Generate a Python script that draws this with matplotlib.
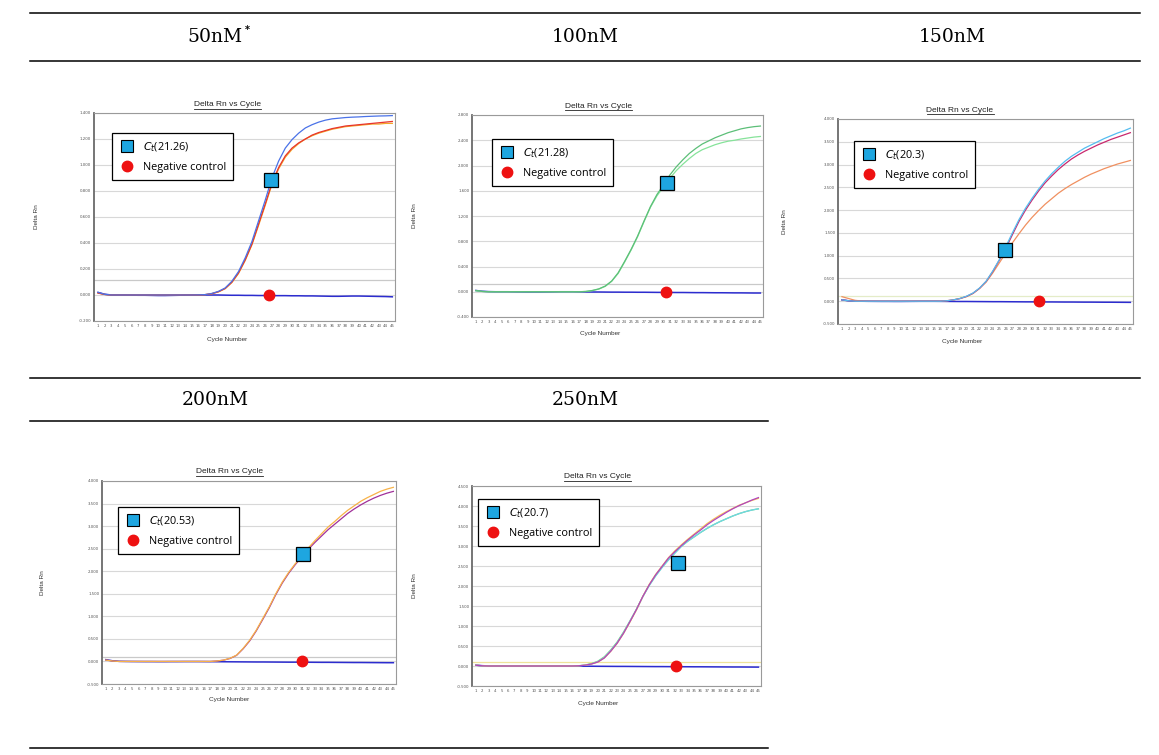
import matplotlib
matplotlib.use("Agg")
import matplotlib.pyplot as plt
from matplotlib.lines import Line2D
from matplotlib.ticker import MultipleLocator, FormatStrFormatter

# ---- data (Delta Rn per cycle) ----
cycles = list(range(1, 46))

nm50_blue = [0.020, 0.005, 0.000, 0.000, 0.000, 0.000, 0.000, 0.000, 0.000, 0.000, 0.000, 0.000, 0.000, 0.000, 0.000,
             0.001, 0.003, 0.012, 0.028, 0.054, 0.105, 0.180, 0.285, 0.410, 0.570, 0.730, 0.900, 1.030, 1.130, 1.195,
             1.245, 1.285, 1.310, 1.330, 1.345, 1.355, 1.360, 1.365, 1.368, 1.370, 1.373, 1.375, 1.377, 1.378, 1.380]
nm50_red = [0.015, 0.004, 0.000, 0.000, 0.000, 0.000, 0.000, 0.000, 0.000, 0.000, 0.000, 0.000, 0.000, 0.000, 0.000,
            0.001, 0.003, 0.010, 0.025, 0.050, 0.098, 0.170, 0.270, 0.390, 0.545, 0.700, 0.860, 0.980, 1.070, 1.130,
            1.170, 1.200, 1.230, 1.250, 1.265, 1.280, 1.290, 1.300, 1.305, 1.310, 1.315, 1.320, 1.325, 1.330, 1.335]
nm50_orange = [0.015, 0.004, 0.000, 0.000, 0.000, 0.000, 0.000, 0.000, 0.000, 0.000, 0.000, 0.000, 0.000, 0.000, 0.000,
               0.001, 0.003, 0.010, 0.024, 0.048, 0.095, 0.165, 0.265, 0.385, 0.535, 0.690, 0.850, 0.970, 1.060, 1.120,
               1.165, 1.200, 1.225, 1.245, 1.260, 1.275, 1.285, 1.295, 1.300, 1.305, 1.310, 1.315, 1.315, 1.320, 1.320]
nm50_neg = [0.020, 0.006, 0.000, 0.000, 0.000, -0.001, -0.002, -0.002, -0.003, -0.004, -0.004, -0.003, -0.002, -0.001, 0.000,
            0.000, 0.000, 0.000, 0.000, -0.001, -0.002, -0.002, -0.003, -0.003, -0.004, -0.004, -0.005, -0.005, -0.005, -0.006,
            -0.006, -0.007, -0.007, -0.008, -0.009, -0.010, -0.010, -0.009, -0.008, -0.008, -0.009, -0.010, -0.011, -0.012, -0.014]

nm100_a = [0.020, 0.005, 0.000, 0.000, 0.000, 0.000, 0.000, 0.000, 0.000, 0.000, 0.000, 0.000, 0.000, 0.000, 0.000,
           0.000, 0.000, 0.005, 0.020, 0.045, 0.090, 0.170, 0.300, 0.480, 0.670, 0.880, 1.120, 1.350, 1.540, 1.690,
           1.850, 1.980, 2.090, 2.190, 2.270, 2.340, 2.390, 2.440, 2.480, 2.520, 2.550, 2.580, 2.600, 2.615, 2.625]
nm100_b = [0.015, 0.004, 0.000, 0.000, 0.000, 0.000, 0.000, 0.000, 0.000, 0.000, 0.000, 0.000, 0.000, 0.000, 0.000,
           0.000, 0.000, 0.004, 0.018, 0.042, 0.085, 0.165, 0.290, 0.470, 0.660, 0.870, 1.110, 1.340, 1.520, 1.660,
           1.800, 1.920, 2.020, 2.110, 2.190, 2.250, 2.290, 2.330, 2.360, 2.385, 2.400, 2.420, 2.435, 2.450, 2.460]
nm100_neg = [0.020, 0.008, 0.002, 0.000, 0.000, 0.000, -0.002, -0.003, -0.004, -0.004, -0.004, -0.003, -0.002, 0.000, 0.000,
             0.000, -0.002, -0.003, -0.004, -0.004, -0.005, -0.006, -0.006, -0.007, -0.007, -0.008, -0.008, -0.009, -0.010, -0.010,
             -0.011, -0.012, -0.012, -0.013, -0.014, -0.014, -0.015, -0.016, -0.016, -0.017, -0.018, -0.018, -0.019, -0.020, -0.020]

nm150_blue = [0.030, 0.010, 0.000, 0.000, 0.000, 0.000, 0.000, 0.000, 0.000, 0.000, 0.000, 0.000, 0.000, 0.000, 0.000,
              0.000, 0.010, 0.030, 0.060, 0.110, 0.180, 0.290, 0.440, 0.660, 0.910, 1.200, 1.500, 1.790, 2.040, 2.260,
              2.460, 2.640, 2.800, 2.940, 3.070, 3.180, 3.270, 3.360, 3.430, 3.500, 3.570, 3.630, 3.690, 3.740, 3.800]
nm150_magenta = [0.030, 0.010, 0.000, 0.000, 0.000, 0.000, 0.000, 0.000, 0.000, 0.000, 0.000, 0.000, 0.000, 0.000, 0.000,
                 0.000, 0.010, 0.028, 0.058, 0.105, 0.175, 0.285, 0.435, 0.650, 0.900, 1.160, 1.460, 1.750, 2.000, 2.220,
                 2.420, 2.600, 2.750, 2.890, 3.010, 3.120, 3.210, 3.290, 3.360, 3.430, 3.490, 3.550, 3.600, 3.650, 3.700]
nm150_orange = [0.100, 0.060, 0.020, 0.005, 0.000, 0.000, 0.000, 0.000, 0.000, 0.000, 0.000, 0.000, 0.000, 0.000, 0.000,
                0.000, 0.010, 0.030, 0.060, 0.100, 0.170, 0.280, 0.420, 0.620, 0.840, 1.060, 1.280, 1.480, 1.670, 1.840,
                1.990, 2.130, 2.250, 2.370, 2.470, 2.560, 2.640, 2.720, 2.790, 2.850, 2.910, 2.960, 3.010, 3.050, 3.090]
nm150_neg = [0.030, 0.010, 0.000, 0.000, -0.002, -0.003, -0.004, -0.004, -0.005, -0.005, -0.004, -0.003, -0.002, -0.002, -0.002,
             -0.003, -0.004, -0.005, -0.006, -0.006, -0.007, -0.008, -0.009, -0.010, -0.010, -0.011, -0.012, -0.013, -0.014, -0.014,
             -0.015, -0.016, -0.016, -0.017, -0.018, -0.018, -0.019, -0.020, -0.020, -0.021, -0.022, -0.022, -0.023, -0.024, -0.025]

nm200_orange = [0.030, 0.010, 0.000, 0.000, 0.000, 0.000, 0.000, 0.000, 0.000, 0.000, 0.000, 0.000, 0.000, 0.000, 0.000,
                0.000, 0.000, 0.010, 0.030, 0.070, 0.140, 0.290, 0.470, 0.690, 0.950, 1.210, 1.500, 1.760, 1.980, 2.170,
                2.340, 2.520, 2.680, 2.830, 2.980, 3.100, 3.230, 3.350, 3.450, 3.550, 3.630, 3.700, 3.770, 3.820, 3.860]
nm200_purple = [0.030, 0.010, 0.000, 0.000, 0.000, 0.000, 0.000, 0.000, 0.000, 0.000, 0.000, 0.000, 0.000, 0.000, 0.000,
                0.000, 0.000, 0.010, 0.028, 0.066, 0.135, 0.280, 0.455, 0.675, 0.930, 1.190, 1.480, 1.740, 1.960, 2.150,
                2.320, 2.490, 2.640, 2.780, 2.920, 3.040, 3.160, 3.280, 3.380, 3.470, 3.550, 3.620, 3.680, 3.730, 3.770]
nm200_neg = [0.040, 0.015, 0.003, 0.000, -0.002, -0.003, -0.004, -0.004, -0.005, -0.005, -0.004, -0.004, -0.003, -0.003, -0.003,
             -0.004, -0.005, -0.006, -0.007, -0.008, -0.009, -0.010, -0.011, -0.012, -0.012, -0.013, -0.014, -0.015, -0.016, -0.016,
             -0.017, -0.018, -0.019, -0.020, -0.020, -0.021, -0.022, -0.023, -0.024, -0.024, -0.025, -0.026, -0.027, -0.028, -0.028]

nm250_purple = [0.020, 0.005, 0.000, 0.000, 0.000, 0.000, 0.000, 0.000, 0.000, 0.000, 0.000, 0.000, 0.000, 0.000, 0.000,
                0.000, 0.005, 0.020, 0.050, 0.100, 0.200, 0.370, 0.570, 0.820, 1.110, 1.410, 1.740, 2.030, 2.280, 2.490,
                2.700, 2.860, 3.010, 3.150, 3.280, 3.400, 3.530, 3.640, 3.740, 3.840, 3.930, 4.010, 4.080, 4.150, 4.210]
nm250_yellow = [0.020, 0.005, 0.000, 0.000, 0.000, 0.000, 0.000, 0.000, 0.000, 0.000, 0.000, 0.000, 0.000, 0.000, 0.000,
                0.000, 0.005, 0.020, 0.050, 0.100, 0.200, 0.365, 0.565, 0.815, 1.100, 1.400, 1.740, 2.040, 2.290, 2.500,
                2.710, 2.880, 3.030, 3.170, 3.300, 3.430, 3.560, 3.670, 3.770, 3.860, 3.940, 4.020, 4.080, 4.140, 4.190]
nm250_green = [0.020, 0.005, 0.000, 0.000, 0.000, 0.000, 0.000, 0.000, 0.000, 0.000, 0.000, 0.000, 0.000, 0.000, 0.000,
               0.000, 0.006, 0.025, 0.060, 0.120, 0.230, 0.400, 0.600, 0.850, 1.130, 1.420, 1.740, 2.020, 2.260, 2.470,
               2.660, 2.830, 2.990, 3.120, 3.230, 3.340, 3.440, 3.530, 3.610, 3.680, 3.750, 3.810, 3.860, 3.900, 3.930]
nm250_cyan = [0.020, 0.005, 0.000, 0.000, 0.000, 0.000, 0.000, 0.000, 0.000, 0.000, 0.000, 0.000, 0.000, 0.000, 0.000,
              0.000, 0.005, 0.020, 0.055, 0.110, 0.215, 0.385, 0.585, 0.835, 1.120, 1.410, 1.730, 2.010, 2.250, 2.460,
              2.650, 2.820, 2.990, 3.120, 3.230, 3.340, 3.440, 3.530, 3.610, 3.680, 3.750, 3.810, 3.860, 3.900, 3.930]
nm250_neg = [0.020, 0.008, 0.002, 0.000, 0.000, -0.002, -0.003, -0.003, -0.004, -0.004, -0.004, -0.003, -0.003, -0.002, -0.002,
             -0.003, -0.004, -0.005, -0.006, -0.007, -0.008, -0.009, -0.010, -0.010, -0.011, -0.012, -0.013, -0.014, -0.015, -0.015,
             -0.016, -0.017, -0.018, -0.019, -0.020, -0.020, -0.021, -0.022, -0.023, -0.024, -0.025, -0.025, -0.026, -0.027, -0.028]

conc_labels = ["50nM", "100nM", "150nM", "200nM", "250nM"]
ct_values = ["21.26", "21.28", "20.3", "20.53", "20.7"]
ct_cycle = [26.8, 30.5, 25.8, 31.2, 32.4]
ct_delta = [0.887, 1.72, 1.13, 2.39, 2.58]
nc_cycle = [26.6, 30.4, 31.0, 31.05, 32.2]
nc_delta = [0.0, 0.0, 0.0, 0.02, 0.0]
thresholds = [0.118, 0.126, 0.12, 0.10, 0.10]

# ---- layout (pixels of the 1159x755 picture) ----
W, H = 1159, 755


def fx(px):
    return px / W


def fy(py):
    return 1 - py / H


panels = [
    dict(curves=[(nm50_orange, "#f3a62a"), (nm50_red, "#e8342c"), (nm50_blue, "#4a72e8")], neg=nm50_neg,
         ylim=(-0.2, 1.4), step=0.2, box=(94, 113, 395, 321), title=(227, 105), ylab=37, xlab=(227, 339),
         leg=(112, 133), thr_col="#c9c9c9"),
    dict(curves=[(nm100_b, "#86e39a"), (nm100_a, "#5cbf78")], neg=nm100_neg,
         ylim=(-0.4, 2.8), step=0.4, box=(472, 115, 763, 317), title=(599, 106), ylab=415, xlab=(600, 334),
         leg=(492, 139), thr_col="#c9c9c9"),
    dict(curves=[(nm150_orange, "#f09060"), (nm150_magenta, "#c8286e"), (nm150_blue, "#55bdf0")], neg=nm150_neg,
         ylim=(-0.5, 4.0), step=0.5, box=(838, 119, 1133, 324), title=(960, 110), ylab=785, xlab=(962, 341),
         leg=(854, 141), thr_col="#e4ecc8"),
    dict(curves=[(nm200_purple, "#a0309a"), (nm200_orange, "#f7b248")], neg=nm200_neg,
         ylim=(-0.5, 4.0), step=0.5, box=(102, 481, 396, 684), title=(229, 472), ylab=43, xlab=(229, 700),
         leg=(118, 507), thr_col="#c9c9c9"),
    dict(curves=[(nm250_green, "#6fd87c"), (nm250_cyan, "#6fd6e6"), (nm250_yellow, "#f6c454"), (nm250_purple, "#b044c0")],
         neg=nm250_neg, ylim=(-0.5, 4.5), step=0.5, box=(472, 486, 761, 686), title=(597, 477), ylab=415,
         xlab=(598, 704), leg=(478, 499), thr_col="#efe39a"),
]

fig = plt.figure(figsize=(W / 100, H / 100), dpi=100)
fig.patch.set_facecolor("white")

# table rules
rules = [(13, 30, 1140), (61, 30, 1140), (378, 30, 1140), (421, 30, 768), (748, 30, 768)]
for py, x0, x1 in rules:
    fig.add_artist(Line2D([fx(x0), fx(x1)], [fy(py), fy(py)], color="black", lw=1.1))

head_pos = [(215, 37), (585, 37), (952, 37), (215, 400), (585, 400)]
for lab, (hx, hy) in zip(conc_labels, head_pos):
    fig.text(fx(hx), fy(hy), lab, ha="center", va="center", family="DejaVu Serif", fontsize=13.5)
fig.text(fx(247), fy(30), "*", ha="center", va="center", family="DejaVu Sans", fontsize=7, weight="bold")

titles = []
for i, p in enumerate(panels):
    l, t, r, b = p["box"]
    ax = fig.add_axes([fx(l), fy(b), fx(r - l), (b - t) / H])
    ax.set_xlim(0.4, 45.4)
    ax.set_ylim(*p["ylim"])
    ax.yaxis.set_major_locator(MultipleLocator(p["step"]))
    ax.set_xticks(cycles)
    ax.set_xticklabels([str(c) for c in cycles])
    ax.yaxis.set_major_formatter(FormatStrFormatter("%.3f"))
    ax.tick_params(length=0, labelsize=2.8, labelcolor="#555555", pad=2)
    ax.grid(axis="y", color="#d8d8d8", lw=0.8)
    ax.set_axisbelow(True)
    for side in ["top", "right", "bottom"]:
        ax.spines[side].set_color("#9a9a9a")
        ax.spines[side].set_linewidth(0.8)
    ax.spines["left"].set_color("#6a6a6a")
    ax.spines["left"].set_linewidth(1.3)

    ax.axhline(thresholds[i], color=p["thr_col"], lw=0.9, zorder=1)
    ax.plot(cycles, p["neg"], color="#2c2ccf", lw=1.1, zorder=2)
    for vals, col in p["curves"]:
        ax.plot(cycles, vals, color=col, lw=0.9, zorder=3)

    ax.plot(ct_cycle[i], ct_delta[i], marker="s", ms=9.5, mfc="#1ea6e0", mec="black", mew=0.9, zorder=5)
    ax.plot(nc_cycle[i], nc_delta[i], marker="o", ms=7.5, mfc="#ee1111", mec="#ee1111", zorder=5)

    handles = [Line2D([], [], ls="none", marker="s", ms=8, mfc="#1ea6e0", mec="black", mew=0.8),
               Line2D([], [], ls="none", marker="o", ms=7.5, mfc="#ee1111", mec="#ee1111")]
    labels = [r"$\mathit{C_t}$(" + ct_values[i] + ")", "Negative control"]
    lx, ly = p["leg"]
    leg = ax.legend(handles, labels, loc="upper left", bbox_to_anchor=(fx(lx), fy(ly)),
                    bbox_transform=fig.transFigure, fancybox=False, framealpha=1,
                    prop={"family": ["Open Sans", "DejaVu Sans"], "size": 7.8},
                    borderpad=0.65, labelspacing=0.75, handlelength=1.5, handletextpad=0.7, borderaxespad=0)
    leg.get_frame().set_edgecolor("black")
    leg.get_frame().set_linewidth(0.9)
    leg.set_zorder(6)

    tx, ty = p["title"]
    titles.append(fig.text(fx(tx), fy(ty), "Delta Rn vs Cycle", ha="center", va="center",
                           family="Liberation Sans", fontsize=6, color="#222222"))
    cx, cy = p["xlab"]
    fig.text(fx(cx), fy(cy), "Cycle Number", ha="center", va="center", family="Liberation Sans",
             fontsize=4.6, color="#333333")
    fig.text(fx(p["ylab"]), fy((t + b) / 2), "Delta Rn", ha="center", va="center", rotation=90,
             family="Liberation Sans", fontsize=4.6, color="#333333")

# underline the small plot titles
fig.canvas.draw()
rend = fig.canvas.get_renderer()
for tt in titles:
    bb = tt.get_window_extent(rend)
    y0 = (bb.y0 - 0.8) / H
    fig.add_artist(Line2D([bb.x0 / W, bb.x1 / W], [y0, y0], color="#222222", lw=0.6))

fig.savefig("out.png", dpi=100)
